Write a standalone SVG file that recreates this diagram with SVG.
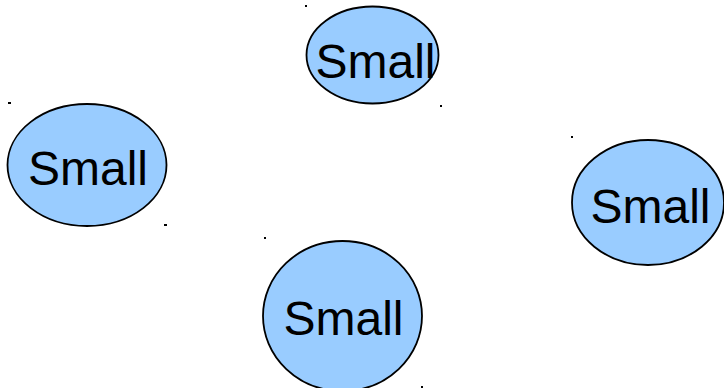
<svg xmlns="http://www.w3.org/2000/svg" width="724" height="388" viewBox="0 0 724 388">
<style>
.n{fill:#99ccff;stroke:#000;stroke-width:1.8}
.t{font-family:"Liberation Sans",Arial,sans-serif;font-size:48px;fill:#000;text-anchor:middle}
.d{fill:#000}
</style>
<rect width="724" height="388" fill="#fff"/>
<g id="connectors"></g>
<g id="node-top">
<ellipse class="n" cx="372.5" cy="55" rx="66" ry="48.5"/>
<text class="t" x="375.5" y="78">Small</text>
<rect class="d" x="305" y="5" width="2" height="2"/>
<rect class="d" x="440" y="105" width="2" height="2"/>
</g>
<g id="node-left">
<ellipse class="n" cx="87" cy="165" rx="79.5" ry="61"/>
<text class="t" x="88" y="185">Small</text>
<rect class="d" x="8" y="102" width="3" height="2"/>
<rect class="d" x="164" y="224" width="3" height="2"/>
</g>
<g id="node-right">
<ellipse class="n" cx="648" cy="202.5" rx="76" ry="62.5"/>
<text class="t" x="650.5" y="223">Small</text>
<rect class="d" x="571" y="136" width="2" height="2"/>
</g>
<g id="node-bottom">
<ellipse class="n" cx="342.5" cy="316" rx="79.5" ry="75"/>
<text class="t" x="343.5" y="335">Small</text>
<rect class="d" x="264" y="237" width="2" height="2"/>
<rect class="d" x="421" y="386" width="2" height="2"/>
</g>
</svg>
